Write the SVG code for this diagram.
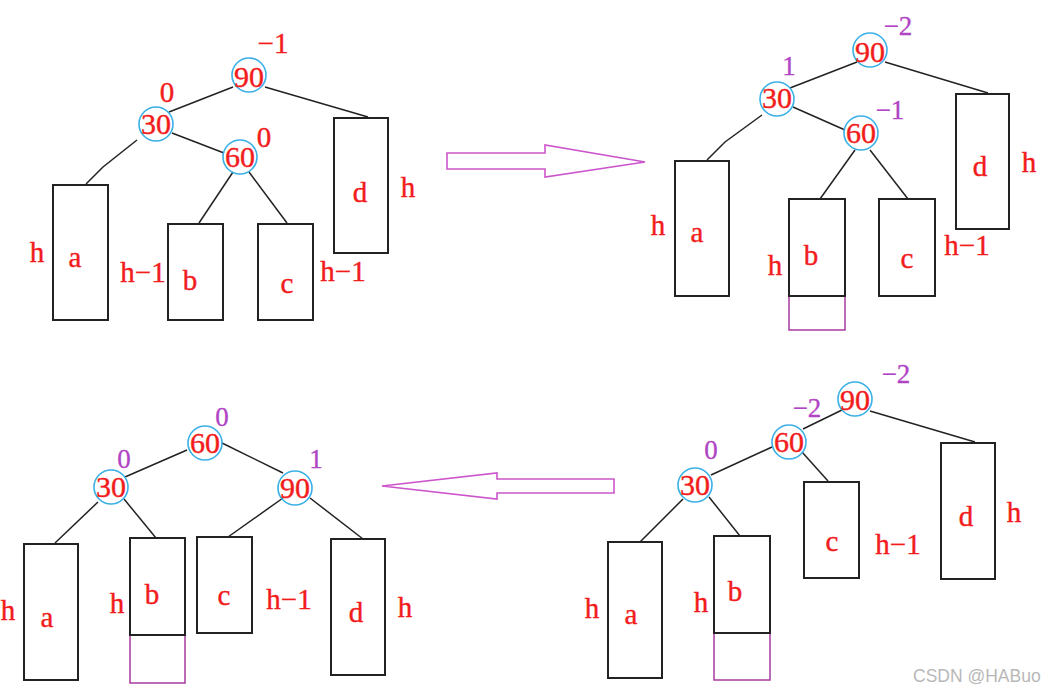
<svg xmlns="http://www.w3.org/2000/svg" width="1044" height="693" viewBox="0 0 1044 693">
<style>
.bg{fill:#fff}
.nd{fill:none;stroke:#3ab0e6;stroke-width:1.6}
.bx{fill:none;stroke:#222;stroke-width:2}
.px{fill:none;stroke:#a83aa0;stroke-width:1.5}
.ln{fill:none;stroke:#222;stroke-width:1.5}
.ar{fill:none;stroke:#cc55cc;stroke-width:1.6}
text{font-family:"Liberation Serif","DejaVu Serif",serif;text-anchor:middle}
.k{fill:#f21c1c;stroke:#f21c1c;stroke-width:0.4;font-size:30px}
.t{fill:#f21c1c;stroke:#f21c1c;stroke-width:0.4;font-size:29px}
.bp{fill:#b044c4;stroke:#b044c4;stroke-width:0.3;font-size:27px}
.wm{fill:#b8b8b8;font-family:"Liberation Sans",Arial,sans-serif;font-size:17.5px;text-anchor:start}
</style>
<rect class="bg" x="0" y="0" width="1044" height="693"/>

<!-- arrows -->
<g id="arrows">
<polygon class="ar" points="447,153 545,153 545,145 645,162 545,177 545,169 447,169"/>
<polygon class="ar" points="614,479 497,479 497,473 382,486 497,499 497,493 614,493"/>
</g>

<!-- connectors -->
<g id="connectors">
<polyline class="ln" points="233,87 169,112"/>
<polyline class="ln" points="265,87 368,117"/>
<polyline class="ln" points="137,140 103,167 86,184"/>
<polyline class="ln" points="172,133 224,153"/>
<polyline class="ln" points="233,172 199,223"/>
<polyline class="ln" points="249,172 287,223"/>
<polyline class="ln" points="857,62 790,88"/>
<polyline class="ln" points="885,62 988,93"/>
<polyline class="ln" points="762,115 725,142 707,160"/>
<polyline class="ln" points="793,107 845,130"/>
<polyline class="ln" points="855,150 820,199"/>
<polyline class="ln" points="870,150 908,199"/>
<polyline class="ln" points="187,450 125,477"/>
<polyline class="ln" points="222,443 283,473"/>
<polyline class="ln" points="98,502 55,543"/>
<polyline class="ln" points="124,499 156,538"/>
<polyline class="ln" points="283,498 228,537"/>
<polyline class="ln" points="310,498 363,539"/>
<polyline class="ln" points="842,410 803,429"/>
<polyline class="ln" points="870,411 975,442"/>
<polyline class="ln" points="772,447 711,475"/>
<polyline class="ln" points="802,452 828,481"/>
<polyline class="ln" points="683,499 640,542"/>
<polyline class="ln" points="709,497 740,536"/>
</g>

<!-- ===== top-left tree ===== -->
<g id="tl-90"><circle class="nd" cx="249" cy="75" r="17"/><text class="k" x="249" y="87">90</text><text class="t" x="273" y="53">−1</text></g>
<g id="tl-30"><circle class="nd" cx="156" cy="124" r="17"/><text class="k" x="156" y="134">30</text><text class="t" x="167" y="102">0</text></g>
<g id="tl-60"><circle class="nd" cx="240" cy="157" r="17"/><text class="k" x="240" y="167">60</text><text class="t" x="264" y="147">0</text></g>
<g id="tl-a"><rect class="bx" x="53" y="185" width="55" height="135"/><text class="t" x="75" y="267">a</text><text class="t" x="37" y="262">h</text></g>
<g id="tl-b"><rect class="bx" x="168" y="224" width="55" height="96"/><text class="t" x="190" y="290">b</text><text class="t" x="143" y="282">h−1</text></g>
<g id="tl-c"><rect class="bx" x="258" y="224" width="55" height="96"/><text class="t" x="287" y="293">c</text><text class="t" x="343" y="281">h−1</text></g>
<g id="tl-d"><rect class="bx" x="334" y="118" width="54" height="135"/><text class="t" x="360" y="202">d</text><text class="t" x="408" y="197">h</text></g>

<!-- ===== top-right tree ===== -->
<g id="tr-90"><circle class="nd" cx="870" cy="50" r="17"/><text class="k" x="870" y="62">90</text><text class="bp" x="898" y="35">−2</text></g>
<g id="tr-30"><circle class="nd" cx="777" cy="99" r="17"/><text class="k" x="777" y="108">30</text><text class="bp" x="789" y="75">1</text></g>
<g id="tr-60"><circle class="nd" cx="861" cy="133" r="17"/><text class="k" x="861" y="143">60</text><text class="bp" x="890" y="119">−1</text></g>
<g id="tr-a"><rect class="bx" x="675" y="161" width="54" height="135"/><text class="t" x="697" y="242">a</text><text class="t" x="658" y="235">h</text></g>
<g id="tr-b"><rect class="px" x="789" y="296" width="56" height="34"/><rect class="bx" x="789" y="199" width="56" height="97"/><text class="t" x="811" y="265">b</text><text class="t" x="775" y="275">h</text></g>
<g id="tr-c"><rect class="bx" x="879" y="199" width="56" height="97"/><text class="t" x="907" y="268">c</text><text class="t" x="967" y="255">h−1</text></g>
<g id="tr-d"><rect class="bx" x="956" y="94" width="53" height="135"/><text class="t" x="980" y="176">d</text><text class="t" x="1029" y="172">h</text></g>

<!-- ===== bottom-left tree ===== -->
<g id="bl-60"><circle class="nd" cx="205" cy="443" r="17"/><text class="k" x="205" y="453">60</text><text class="bp" x="222" y="426">0</text></g>
<g id="bl-30"><circle class="nd" cx="111" cy="487" r="17"/><text class="k" x="111" y="497">30</text><text class="bp" x="124" y="468">0</text></g>
<g id="bl-90"><circle class="nd" cx="295" cy="488" r="17"/><text class="k" x="295" y="498">90</text><text class="bp" x="316" y="468">1</text></g>
<g id="bl-a"><rect class="bx" x="24" y="544" width="54" height="136"/><text class="t" x="47" y="627">a</text><text class="t" x="8" y="620">h</text></g>
<g id="bl-b"><rect class="px" x="130" y="635" width="55" height="48"/><rect class="bx" x="130" y="538" width="55" height="97"/><text class="t" x="152" y="604">b</text><text class="t" x="117" y="613">h</text></g>
<g id="bl-c"><rect class="bx" x="197" y="537" width="55" height="96"/><text class="t" x="224" y="605">c</text><text class="t" x="289" y="609">h−1</text></g>
<g id="bl-d"><rect class="bx" x="331" y="539" width="54" height="136"/><text class="t" x="356" y="622">d</text><text class="t" x="405" y="617">h</text></g>

<!-- ===== bottom-right tree ===== -->
<g id="br-90"><circle class="nd" cx="855" cy="399" r="17"/><text class="k" x="855" y="410">90</text><text class="bp" x="896" y="383">−2</text></g>
<g id="br-60"><circle class="nd" cx="789" cy="442" r="17"/><text class="k" x="789" y="452">60</text><text class="bp" x="807" y="417">−2</text></g>
<g id="br-30"><circle class="nd" cx="695" cy="485" r="17"/><text class="k" x="695" y="495">30</text><text class="bp" x="711" y="459">0</text></g>
<g id="br-a"><rect class="bx" x="608" y="542" width="54" height="136"/><text class="t" x="631" y="624">a</text><text class="t" x="592" y="618">h</text></g>
<g id="br-b"><rect class="px" x="714" y="633" width="56" height="47"/><rect class="bx" x="714" y="536" width="56" height="97"/><text class="t" x="735" y="601">b</text><text class="t" x="701" y="612">h</text></g>
<g id="br-c"><rect class="bx" x="804" y="482" width="55" height="96"/><text class="t" x="832" y="551">c</text><text class="t" x="898" y="554">h−1</text></g>
<g id="br-d"><rect class="bx" x="941" y="443" width="54" height="136"/><text class="t" x="966" y="526">d</text><text class="t" x="1014" y="522">h</text></g>

<text class="wm" x="913" y="682">CSDN @HABuo</text>
</svg>
